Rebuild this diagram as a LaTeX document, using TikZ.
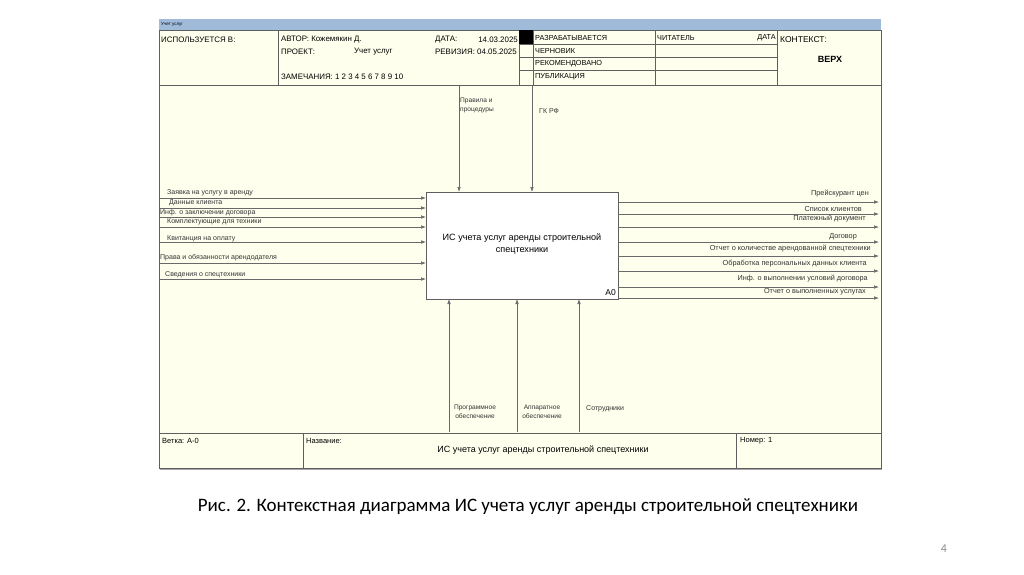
\documentclass[tikz,border=0pt]{standalone}
\usepackage{fontspec}
\setmainfont{Liberation Sans}
\newfontfamily\capfont{Carlito}
\usetikzlibrary{arrows.meta}
\definecolor{cream}{RGB}{255,255,238}
\definecolor{barblue}{RGB}{160,186,218}
\definecolor{framec}{RGB}{95,95,95}
\definecolor{connc}{RGB}{105,105,105}
\tikzset{
  hdr/.style={inner sep=0pt, anchor=west, font=\fontsize{7.9}{9}\selectfont},
  lbl/.style={inner sep=0pt, font=\fontsize{7}{8}\selectfont, text=black!80},
  olbl/.style={inner sep=0pt, font=\fontsize{7.3}{8}\selectfont, text=black!80, anchor=east},
  arr/.style={draw=connc, line width=0.6pt, -{Latex[length=5pt,width=3.6pt]}},
  frm/.style={draw=framec, line width=0.7pt},
}
\begin{document}
\begin{tikzpicture}[x=1pt,y=-1pt]
\useasboundingbox[fill=white] (0,0) rectangle (1024,574);
% background and bar
\fill[barblue] (159,19) rectangle (881,30);
\fill[cream] (159,30) rectangle (881,468);
\node[inner sep=0pt, anchor=west, font=\fontsize{4.5}{5}\selectfont] (bartxt) at (161,24) {Учет услуг};
% shadow
\draw[black!35, line width=1.5pt] (160,469.5) -- (882,469.5);
% frame
\draw[frm] (159,30) rectangle (881,468);
\draw[frm] (159,85) -- (881,85);
\draw[frm] (159,433) -- (881,433);
\draw[frm] (278,30) -- (278,85);
\draw[frm] (519,30) -- (519,85);
\draw[frm] (533,30) -- (533,85);
\draw[frm] (655,30) -- (655,85);
\draw[frm] (777,30) -- (777,85);
\draw[frm] (519,44) -- (777,44);
\draw[frm] (519,57) -- (777,57);
\draw[frm] (519,70) -- (777,70);
\fill[black] (519,30) rectangle (533,44);
\draw[frm] (303,433) -- (303,468);
\draw[frm] (736,433) -- (736,468);
% header texts
\node[hdr] (h1) at (161,40) {ИСПОЛЬЗУЕТСЯ В:};
\node[hdr] (h2) at (281,40) {АВТОР: Кожемякин Д.};
\node[hdr] (h3) at (435,40) {ДАТА:};
\node[hdr, anchor=east] (h4) at (518,40) {14.03.2025};
\node[hdr] (h5) at (281,52) {ПРОЕКТ:};
\node[hdr] (h6) at (354,52) {Учет услуг};
\node[hdr] (h7) at (435,52) {РЕВИЗИЯ: 04.05.2025};
\node[hdr] (h8) at (281,77) {ЗАМЕЧАНИЯ: 1 2 3 4 5 6 7 8 9 10};
\node[hdr, font=\fontsize{7.3}{9}\selectfont] (s1) at (535,38) {РАЗРАБАТЫВАЕТСЯ};
\node[hdr, font=\fontsize{7.3}{9}\selectfont] (s2) at (535,51) {ЧЕРНОВИК};
\node[hdr, font=\fontsize{7.3}{9}\selectfont] (s3) at (535,64) {РЕКОМЕНДОВАНО};
\node[hdr, font=\fontsize{7.3}{9}\selectfont] (s4) at (535,77) {ПУБЛИКАЦИЯ};
\node[hdr, font=\fontsize{7.3}{9}\selectfont] (rd) at (657,38) {ЧИТАТЕЛЬ};
\node[hdr, font=\fontsize{7.3}{9}\selectfont, anchor=east] (dt) at (776,38) {ДАТА};
\node[hdr, font=\fontsize{8.5}{10}\selectfont] (ctx) at (780,40) {КОНТЕКСТ:};
\node[inner sep=0pt, font=\bfseries\fontsize{9}{10}\selectfont] (top) at (830,59) {ВЕРХ};
% main box
\node[draw=framec, line width=0.7pt, fill=white, minimum width=192pt, minimum height=107pt, inner sep=0pt, outer sep=0pt, anchor=north west] (box) at (426,192) {};
\node[inner sep=0pt, align=center, font=\fontsize{9.1}{12}\selectfont] (boxtxt) at (522,244) {ИС учета услуг аренды строительной\\спецтехники};
\node[inner sep=0pt, anchor=east, font=\fontsize{8.5}{10}\selectfont] (a0) at (616,293) {A0};
% inputs
\coordinate (i1) at (160,198);
\coordinate (i2) at (160,208);
\coordinate (i3) at (160,217);
\coordinate (i4) at (160,227);
\coordinate (i5) at (160,242);
\coordinate (i6) at (160,263);
\coordinate (i7) at (160,279);
\foreach \c in {i1,i2,i3,i4,i5,i6,i7} {\draw[arr] (\c) -- (\c -| box.west);}
\node[lbl, anchor=west] (li1) at (167,193) {Заявка на услугу в аренду};
\node[lbl, anchor=west] (li2) at (169,203) {Данные клиента};
\node[lbl, anchor=west] (li3) at (160,212.5) {Инф. о заключении договора};
\node[lbl, anchor=west] (li4) at (167,222) {Комплектующие для техники};
\node[lbl, anchor=west] (li5) at (167,238.5) {Квитанция на оплату};
\node[lbl, anchor=west] (li6) at (160,258) {Права и обязанности арендодателя};
\node[lbl, anchor=west] (li7) at (165,274.5) {Сведения о спецтехники};
% outputs
\coordinate (o1) at (879,202);
\coordinate (o2) at (879,214);
\coordinate (o3) at (879,227);
\coordinate (o4) at (879,242);
\coordinate (o5) at (879,256);
\coordinate (o6) at (879,271);
\coordinate (o7) at (879,287);
\coordinate (o8) at (879,298);
\foreach \c in {o1,o2,o3,o4,o5,o6,o7,o8} {\draw[arr] (box.east |- \c) -- (\c);}
\node[olbl] (lo1) at (869,194) {Прейскурант цен};
\node[olbl] (lo2) at (862,209) {Список клиентов};
\node[olbl] (lo3) at (866,219) {Платежный документ};
\node[olbl] (lo4) at (857,236.5) {Договор};
\node[olbl] (lo5) at (871,249) {Отчет о количестве арендованной спецтехники};
\node[olbl] (lo6) at (867,264) {Обработка персональных данных клиента};
\node[olbl] (lo7) at (868,278.5) {Инф. о выполнении условий договора};
\node[olbl] (lo8) at (866,292) {Отчет о выполненных услугах};
% controls
\coordinate (c1) at (459,86);
\coordinate (c2) at (532,86);
\foreach \c in {c1,c2} {\draw[arr] (\c) -- (\c |- box.north);}
\node[lbl, anchor=north west, align=left, font=\fontsize{6.6}{9}\selectfont] (lc1) at (460,98) {Правила и\\процедуры};
\node[lbl, anchor=west] (lc2) at (539,111.5) {ГК РФ};
% mechanisms
\coordinate (m1) at (449,432);
\coordinate (m2) at (517,432);
\coordinate (m3) at (579,432);
\foreach \c in {m1,m2,m3} {\draw[arr] (\c) -- (\c |- box.south);}
\node[lbl, align=center, font=\fontsize{6.6}{9}\selectfont] (lm1) at (475,411.5) {Программное\\обеспечение};
\node[lbl, align=center, font=\fontsize{6.6}{9}\selectfont] (lm2) at (542,411.5) {Аппаратное\\обеспечение};
\node[lbl, anchor=west] (lm3) at (586,409) {Сотрудники};
% footer
\node[hdr, font=\fontsize{7.5}{9}\selectfont] (f1) at (162,441) {Ветка: А-0};
\node[hdr, font=\fontsize{7.5}{9}\selectfont] (f2) at (306,441) {Название:};
\node[inner sep=0pt, font=\fontsize{9}{10}\selectfont] (f3) at (543,450) {ИС учета услуг аренды строительной спецтехники};
\node[hdr, font=\fontsize{7.5}{9}\selectfont] (f4) at (740,441) {Номер: 1};
% caption
\node[inner sep=0pt, font=\capfont\fontsize{19}{22}\selectfont] (cap) at (528,507) {Рис. 2. Контекстная диаграмма ИС учета услуг аренды строительной спецтехники};
\node[inner sep=0pt, text=black!45, font=\capfont\fontsize{12}{14}\selectfont] (pg) at (944,549) {4};
\end{tikzpicture}
\end{document}
